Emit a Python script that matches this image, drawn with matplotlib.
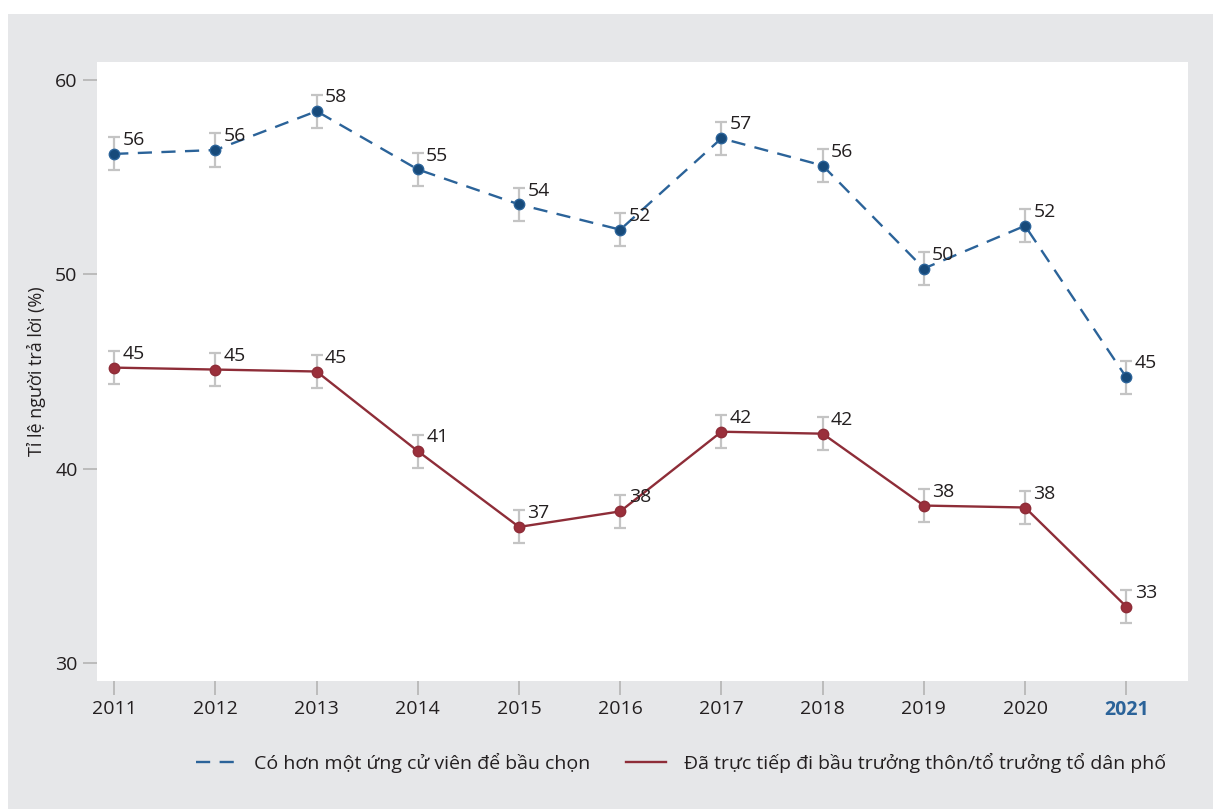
import matplotlib.pyplot as plt
from matplotlib.patches import Rectangle

plt.rcParams["font.family"] = ["Open Sans", "DejaVu Sans"]

years = [2011, 2012, 2013, 2014, 2015, 2016, 2017, 2018, 2019, 2020, 2021]
multi_candidate = [56.2, 56.4, 58.4, 55.4, 53.6, 52.3, 57.0, 55.6, 50.3, 52.5, 44.7]
multi_candidate_ci = [0.85, 0.85, 0.85, 0.85, 0.85, 0.85, 0.85, 0.85, 0.85, 0.85, 0.85]
voted_directly = [45.2, 45.1, 45.0, 40.9, 37.0, 37.8, 41.9, 41.8, 38.1, 38.0, 32.9]
voted_directly_ci = [0.85, 0.85, 0.85, 0.85, 0.85, 0.85, 0.85, 0.85, 0.85, 0.85, 0.85]

series_labels = [
    "Có hơn một ứng cử viên để bầu chọn",
    "Đã trực tiếp đi bầu trưởng thôn/tổ trưởng tổ dân phố",
]
y_ticks = [30, 40, 50, 60]

BLUE = "#2b6399"
BLUE_DARK = "#174a7a"
RED = "#8e2d38"
RED_DOT = "#9a2f3b"
ERR = "#c4c4c4"
TEXT = "#231f20"
BG = "#e6e7e9"

fig = plt.figure(figsize=(12.13, 8.09), dpi=100)
fig.patch.set_facecolor("white")
fig.add_artist(Rectangle((8 / 1213, 0), 1, (809 - 14) / 809,
                         transform=fig.transFigure, facecolor=BG,
                         edgecolor="none", zorder=0))

ax = fig.add_axes([97 / 1213, (809 - 681) / 809, 1091 / 1213, 619 / 809])
ax.set_facecolor("white")
for spine in ax.spines.values():
    spine.set_visible(False)

ax.errorbar(years, multi_candidate, yerr=multi_candidate_ci, fmt="none",
            ecolor=ERR, elinewidth=1.6, capsize=4, capthick=1.6, zorder=2)
ax.errorbar(years, voted_directly, yerr=voted_directly_ci, fmt="none",
            ecolor=ERR, elinewidth=1.6, capsize=4, capthick=1.6, zorder=2)

ax.plot(years, multi_candidate, color=BLUE, linewidth=1.7,
        dashes=(6, 4), zorder=3, label=series_labels[0])
ax.plot(years, multi_candidate, linestyle="none", marker="o", markersize=7.5,
        markerfacecolor=BLUE_DARK, markeredgecolor=BLUE, markeredgewidth=1,
        zorder=4)
ax.plot(years, voted_directly, color=RED, linewidth=1.7, zorder=3,
        label=series_labels[1])
ax.plot(years, voted_directly, linestyle="none", marker="o", markersize=7.5,
        markerfacecolor=RED_DOT, markeredgecolor=RED, markeredgewidth=1,
        zorder=4)

# value labels sit up and to the right of each point
for series in (multi_candidate, voted_directly):
    for x, v in zip(years, series):
        ax.annotate(f"{v:.0f}", (x, v), xytext=(6, 10),
                    textcoords="offset points", ha="left", va="center",
                    fontsize=14, color=TEXT, zorder=5)

ax.set_xlim(2010.83, 2021.61)
ax.set_ylim(29.07, 60.93)
ax.set_xticks(years)
ax.set_xticklabels([str(y) for y in years])
ax.set_yticks(y_ticks)
ax.tick_params(axis="both", colors="#b8b8b8", labelcolor=TEXT,
               labelsize=14, length=10, width=1.3)
ax.tick_params(axis="y", pad=4)
ax.tick_params(axis="x", pad=4)

last = ax.get_xticklabels()[-1]
last.set_color(BLUE)
last.set_fontweight("bold")

ax.set_ylabel("Tỉ lệ người trả lời (%)", fontsize=13, color=TEXT)
ax.yaxis.set_label_coords(-0.047, 0.5)

fig.legend(loc="center", bbox_to_anchor=(681 / 1213, 46 / 809), ncol=2,
           frameon=False, fontsize=14, handlelength=2.1, columnspacing=1.8,
           handletextpad=0.9, labelcolor=TEXT)

fig.savefig("out.png", dpi=100, facecolor=fig.get_facecolor())
